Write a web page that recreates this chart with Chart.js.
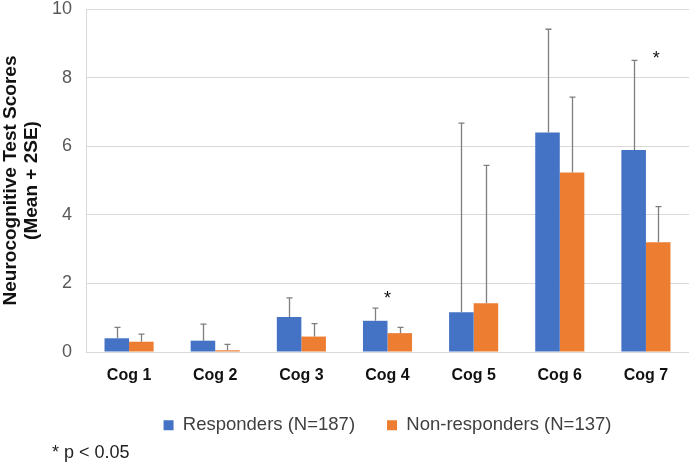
<!DOCTYPE html>
<html>
<head>
<meta charset="utf-8">
<script src="https://cdn.jsdelivr.net/npm/chart.js@4.4.1/dist/chart.umd.min.js"></script>
<style>
  html, body { margin: 0; padding: 0; background: #fff; }
  #wrap { width: 689px; height: 466px; }
</style>
</head>
<body>
<div id="wrap"><canvas id="chart"></canvas></div>
<script>
// values (mean, and mean + 2SE for the whisker top)
const categories = ['Cog 1', 'Cog 2', 'Cog 3', 'Cog 4', 'Cog 5', 'Cog 6', 'Cog 7'];
const responders = [0.40, 0.33, 1.02, 0.91, 1.16, 6.40, 5.89];
const nonResponders = [0.30, 0.05, 0.45, 0.55, 1.42, 5.23, 3.20];
const respondersUpper = [0.72, 0.81, 1.58, 1.28, 6.67, 9.41, 8.50];
const nonRespondersUpper = [0.52, 0.22, 0.83, 0.72, 5.44, 7.43, 4.24];
const yTicks = [0, 2, 4, 6, 8, 10];
const sigCategories = ['Cog 4', 'Cog 7'];
const sigLevels = [1.55, 8.55];
const footnote = '* p < 0.05';

const FONT = "'Liberation Sans', Arial, sans-serif";

const errorBars = {
  id: 'errorBars',
  afterDatasetsDraw(chart) {
    const ctx = chart.ctx;
    const y = chart.scales.y;
    const uppers = [respondersUpper, nonRespondersUpper];
    ctx.save();
    ctx.strokeStyle = '#7f7f7f';
    ctx.lineWidth = 1.3;
    chart.data.datasets.forEach((ds, i) => {
      chart.getDatasetMeta(i).data.forEach((bar, j) => {
        const top = y.getPixelForValue(uppers[i][j]);
        const x = Math.round(bar.x) + 0.5;
        ctx.beginPath();
        ctx.moveTo(x, bar.y);
        ctx.lineTo(x, top);
        ctx.moveTo(x - 3, top);
        ctx.lineTo(x + 3, top);
        ctx.stroke();
      });
    });
    ctx.restore();
  }
};

const notes = {
  id: 'notes',
  afterDraw(chart) {
    const ctx = chart.ctx;
    const x = chart.scales.x;
    const y = chart.scales.y;
    ctx.save();
    ctx.fillStyle = '#111';
    ctx.font = '18px ' + FONT;
    ctx.textAlign = 'center';
    ctx.textBaseline = 'middle';
    sigCategories.forEach((c, i) => {
      const idx = categories.indexOf(c);
      let px = x.getPixelForValue(idx);
      // the Cog 7 mark sits over the non-responder bar
      if (c === 'Cog 7') px = chart.getDatasetMeta(1).data[idx].x - 2;
      ctx.fillText('*', px, y.getPixelForValue(sigLevels[i]));
    });
    ctx.textAlign = 'left';
    ctx.fillStyle = '#222';
    ctx.fillText(footnote, 52, 453);
    ctx.restore();
  }
};

const ctx = document.getElementById('chart').getContext('2d');

const chart = new Chart(ctx, {
  type: 'bar',
  data: {
    labels: categories,
    datasets: [
      {
        label: 'Responders (N=187)',
        data: responders,
        backgroundColor: '#4472C4',
        categoryPercentage: 0.57,
        barPercentage: 1.0
      },
      {
        label: 'Non-responders (N=137)',
        data: nonResponders,
        backgroundColor: '#ED7D31',
        categoryPercentage: 0.57,
        barPercentage: 1.0
      }
    ]
  },
  options: {
    responsive: true,
    maintainAspectRatio: false,
    animation: false,
    layout: {
      padding: { top: 1, right: 0, bottom: 31, left: 0 }
    },
    plugins: {
      tooltip: { enabled: false },
      legend: {
        position: 'bottom',
        fullSize: false,
        maxHeight: 51,
        labels: {
          boxWidth: 10,
          boxHeight: 10,
          padding: 32,
          color: '#404040',
          font: { family: FONT, size: 18.5 }
        }
      }
    },
    scales: {
      x: {
        grid: { display: false },
        border: { color: '#d9d9d9', width: 1 },
        ticks: {
          padding: 6,
          color: '#111',
          font: { family: FONT, size: 16, weight: 'bold', lineHeight: 1.2 }
        },
        afterFit(scale) { scale.height = 32; }
      },
      y: {
        min: 0,
        max: 10,
        grid: { color: '#d9d9d9', drawTicks: true, tickLength: 14, tickColor: 'rgba(0,0,0,0)' },
        border: { color: '#d9d9d9', width: 1 },
        ticks: {
          padding: 0,
          color: '#595959',
          font: { family: FONT, size: 18, lineHeight: 1 }
        },
        afterBuildTicks(scale) {
          scale.ticks = yTicks.map(v => ({ value: v }));
        },
        title: {
          display: true,
          text: ['Neurocognitive Test Scores', '(Mean + 2SE)'],
          color: '#111',
          padding: { top: 0, bottom: 0 },
          font: { family: FONT, size: 19, weight: 'bold', lineHeight: 1.1 }
        },
        afterFit(scale) { scale.width = 86; }
      }
    }
  },
  plugins: [errorBars, notes]
});
</script>
</body>
</html>
